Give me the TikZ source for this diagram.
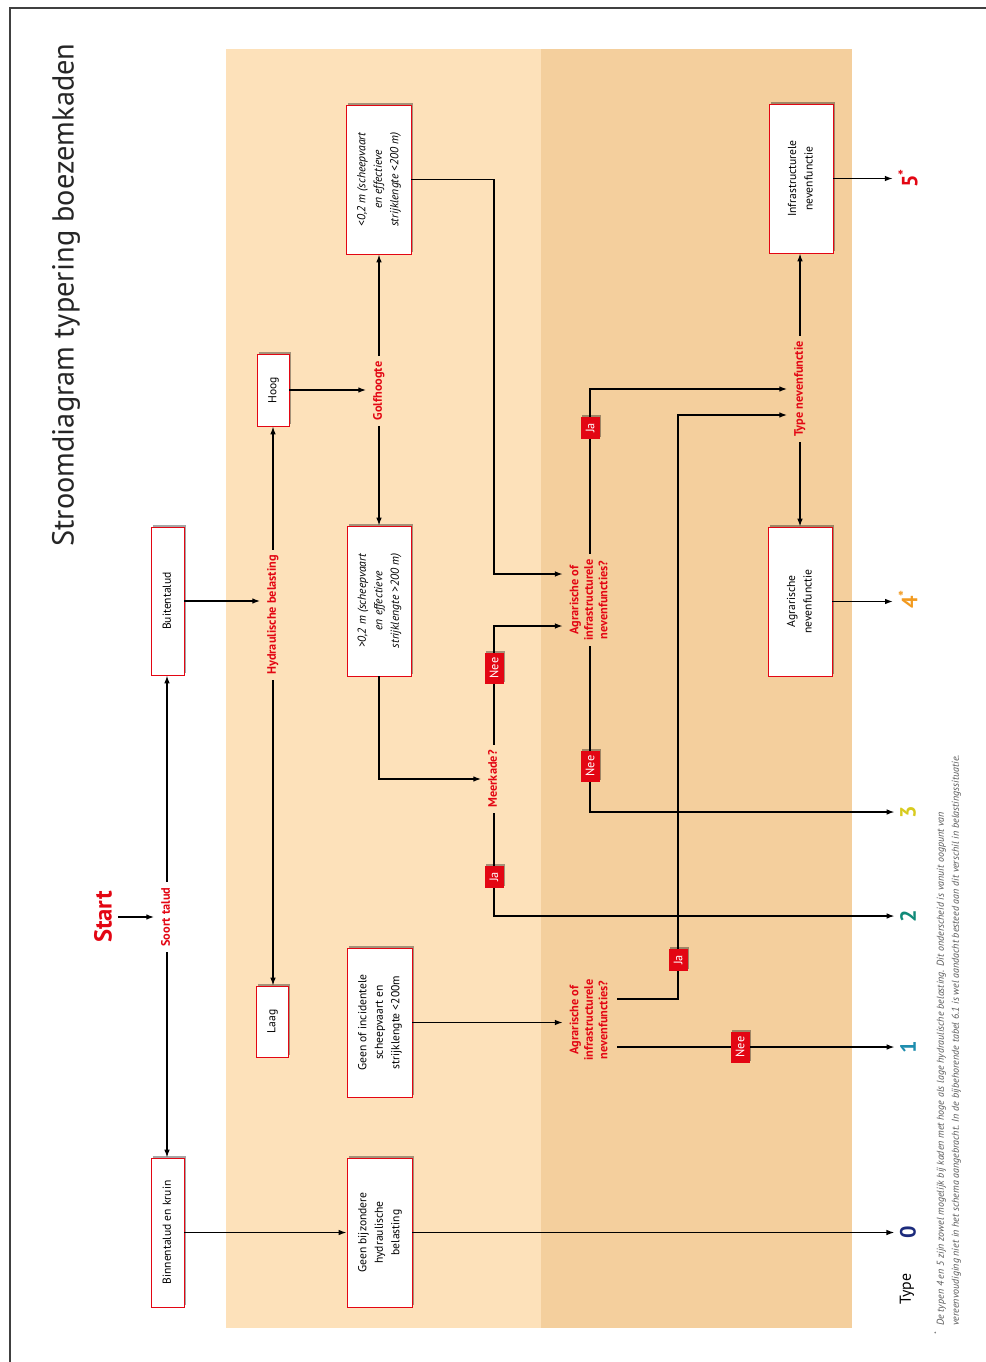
\documentclass[tikz,border=0pt]{standalone}
\usepackage{fontspec}
\usepackage{graphicx}
\setmainfont{PT Sans}
\usetikzlibrary{arrows.meta,shadows,calc}
\definecolor{kred}{HTML}{E30613}
\definecolor{bandA}{HTML}{FDE1BA}
\definecolor{bandB}{HTML}{F4CF9D}
\definecolor{cnul}{HTML}{1C2B7C}
\definecolor{ceen}{HTML}{1E8DAE}
\definecolor{ctwee}{HTML}{108A78}
\definecolor{cdrie}{HTML}{D8CB1E}
\definecolor{cvier}{HTML}{F29A1F}
\newcommand{\rt}[1]{\rotatebox{90}{\begin{tabular}{@{}c@{}}#1\end{tabular}}}
\begin{document}
\begin{tikzpicture}[x=0.02cm,y=-0.02cm,
  box/.style={draw=kred,line width=0.5pt,fill=white,inner sep=0pt,
    font=\fontsize{6.6}{9.4}\selectfont,
    drop shadow={shadow xshift=1.3pt,shadow yshift=1.3pt,fill=black,opacity=0.35}},
  boxit/.style={box,font=\itshape\fontsize{6.6}{9.4}\selectfont},
  bx/.style n args={2}{minimum width=#1*0.02cm,minimum height=#2*0.02cm},
  lbl/.style={text=kred,font=\bfseries\fontsize{7}{8.2}\selectfont,inner sep=3pt},
  num/.style={font=\bfseries\fontsize{12.5}{12.5}\selectfont,inner sep=3pt},
  tag/.style={fill=kred,text=white,inner sep=0pt,minimum width=0.38cm,
    font=\fontsize{7}{7}\selectfont,
    drop shadow={shadow xshift=1pt,shadow yshift=1pt,fill=black,opacity=0.35}},
  arr/.style={-{Latex[length=4.5pt,width=3.2pt]},line width=0.8pt},
]
\useasboundingbox (0,0) rectangle (986,1362);
\fill[white] (0,0) rectangle (986,1362);
\fill[bandA] (226,49) rectangle (541,1328);
\fill[bandB] (541,49) rectangle (852,1328);
\draw[black!75,line width=0.6pt] (986,8) -- (10,8) -- (10,1362);

\node[font=\fontsize{17.3}{17.3}\selectfont,text=black!85] (title) at (66,295) {\rotatebox{90}{Stroomdiagram typering boezemkaden}};
\node[text=kred,font=\bfseries\fontsize{14}{14}\selectfont] (start) at (103,917) {\rotatebox{90}{Start}};

% boxes
\node[box,bx={33}{149}] (binnen) at (167.5,1232.5) {\rt{Binnentalud en kruin}};
\node[box,bx={33}{148}] (buiten) at (167.5,601) {\rt{Buitentalud}};
\node[box,bx={65}{149}] (geenbij) at (379.5,1232.5) {\rt{Geen bijzondere\\hydraulische\\belasting}};
\node[box,bx={32}{71}] (laag) at (272,1021.5) {\rt{Laag}};
\node[box,bx={65}{149}] (geenof) at (379.5,1022.5) {\rt{Geen of incidentele\\scheepvaart en\\strijklengte <200m}};
\node[box,bx={32}{72}] (hoog) at (273,390) {\rt{Hoog}};
\node[boxit,bx={65}{149}] (klein) at (378.5,179.5) {\rt{<0,2 m (scheepvaart\\en effectieve\\strijklengte <200 m)}};
\node[boxit,bx={64}{150}] (groot) at (379,601) {\rt{>0,2 m (scheepvaart\\en effectieve\\strijklengte >200 m)}};
\node[box,bx={64}{149}] (infra) at (801,178.5) {\rt{Infrastructurele\\nevenfunctie}};
\node[box,bx={64}{149}] (agrar) at (800,601.5) {\rt{Agrarische\\nevenfunctie}};

% labels
\node[lbl] (soort) at (167,917) {\rt{Soort talud}};
\node[lbl] (hydr) at (273,615) {\rt{Hydraulische belasting}};
\node[lbl] (golf) at (379,391) {\rt{Golfhoogte}};
\node[lbl] (meer) at (494,779) {\rt{Meerkade?}};
\node[lbl] (agr1) at (590,600) {\rt{Agrarische of\\infrastructurele\\nevenfuncties?}};
\node[lbl] (agr2) at (590,1020) {\rt{Agrarische of\\infrastructurele\\nevenfuncties?}};
\node[lbl] (typenf) at (800,389) {\rt{Type nevenfunctie}};

% types
\node[num,text=cnul] (t0) at (908,1232) {\rotatebox{90}{0}};
\node[num,text=ceen] (t1) at (908,1047) {\rotatebox{90}{1}};
\node[num,text=ctwee] (t2) at (908,916) {\rotatebox{90}{2}};
\node[num,text=cdrie] (t3) at (908,812) {\rotatebox{90}{3}};
\node[num,text=cvier] (t4) at (908,599) {\rotatebox{90}{4\textsuperscript{*}}};
\node[num,text=kred] (t5) at (908,178) {\rotatebox{90}{5\textsuperscript{*}}};
\node[font=\fontsize{9}{9}\selectfont] (type) at (907,1289) {\rotatebox{90}{Type}};

\node[anchor=south west,inner sep=0pt,text=black!65,font=\itshape\fontsize{5.7}{8.5}\selectfont] (foot) at (933,1326)
 {\rotatebox{90}{\begin{tabular}{@{}l@{}}\llap{\textsuperscript{*}\ \ }De typen 4 en 5 zijn zowel mogelijk bij kaden met hoge als lage hydraulische belasting. Dit onderscheid is vanuit oogpunt van\\
 vereenvoudiging niet in het schema aangebracht. In de bijbehorende tabel 6.1 is wel aandacht besteed aan dit verschil in belastingssituatie.\end{tabular}}};

% connectors
\draw[arr] (start) -- (soort);
\draw[arr] (soort.north) -- (soort.north |- buiten.south);
\draw[arr] (soort.south) -- (soort.south |- binnen.north);
\draw[arr] (buiten.east) -- (buiten.east -| hydr.west);
\draw[arr] (hydr.north) -- (hydr.north |- hoog.south);
\draw[arr] (hydr.south) -- (hydr.south |- laag.north);
\draw[arr] (hoog.east) -- (hoog.east -| golf.west);
\draw[arr] (golf.north) -- (golf.north |- klein.south);
\draw[arr] (golf.south) -- (golf.south |- groot.north);
\draw[arr] (groot.south) |- (meer.west);
\draw[arr] (meer.north) |- ($(agr1.west)+(0,26)$);
\draw[arr] (klein.east) -- (klein.east -| meer.center) |- ($(agr1.west)+(0,-26)$);
\draw[arr] (meer.south) |- (t2.west);
\draw[arr] (agr1.north) |- (typenf.west);
\draw[arr] (agr1.south) |- (t3.west);
\draw[arr] (geenof.east) -- (geenof.east -| agr2.west);
\coordinate (jc) at (678,415);
\draw[arr] ($(agr2.east)+(0,-21)$) -| (jc) -- (jc -| typenf.west);
\draw[arr] (agr2.east |- t1) -- (t1.west);
\draw[arr] (typenf.north) -- (typenf.north |- infra.south);
\draw[arr] (typenf.south) -- (typenf.south |- agrar.north);
\draw[arr] (infra.east) -- (infra.east -| t5.west);
\draw[arr] (agrar.east) -- (agrar.east -| t4.west);
\draw[arr] (binnen.east) -- (binnen.east -| geenbij.west);
\draw[arr] (geenbij.east) -- (geenbij.east -| t0.west);

% tags
\node[tag,minimum height=0.62cm] (nee1) at (494,668) {\rotatebox{90}{Nee}};
\node[tag,minimum height=0.44cm] (ja1) at (494,877) {\rotatebox{90}{Ja}};
\node[tag,minimum height=0.44cm] (ja2) at (590,428) {\rotatebox{90}{Ja}};
\node[tag,minimum height=0.62cm] (nee2) at (590,766) {\rotatebox{90}{Nee}};
\node[tag,minimum height=0.44cm] (ja3) at (678,960) {\rotatebox{90}{Ja}};
\node[tag,minimum height=0.62cm] (nee3) at (740,1047) {\rotatebox{90}{Nee}};
\end{tikzpicture}
\end{document}
